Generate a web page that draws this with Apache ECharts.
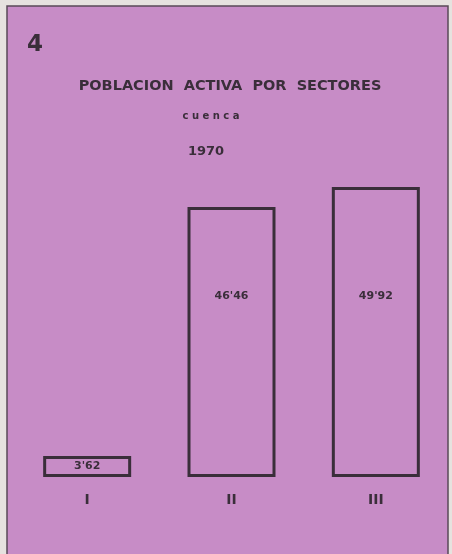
<!DOCTYPE html>
<html><head><meta charset="utf-8">
<script src="https://cdn.jsdelivr.net/npm/echarts@6/dist/echarts.min.js"></script>
<style>html,body{margin:0;padding:0;background:#e6e2df;}#c{width:452px;height:554px;}</style>
</head><body><div id="c"></div>
<script>
const categories = ['I', 'II', 'III'];
const values = [3.62, 46.46, 49.92];
const valueLabels = ["3'62", "46'46", "49'92"];
const figureNumber = '4';
const titleText = 'POBLACION  ACTIVA  POR  SECTORES';
const subtitleText = 'c u e n c a';
const yearText = '1970';

const ink = '#3a2e3a';
const font = '"DejaVu Sans", "Liberation Sans", Arial, sans-serif';
const labelDistances = [0, 84, 104];
const labelPositions = ['inside', 'insideTop', 'insideTop'];

const chart = echarts.init(document.getElementById('c'));
chart.setOption({
  backgroundColor: '#e6e2df',
  animation: false,
  graphic: [
    { type: 'rect', shape: { x: 7, y: 6, width: 441, height: 560 }, style: { fill: '#c78cc6', stroke: '#5a4a58', lineWidth: 1.5 }, z: -10 },
    { type: 'text', x: 27, y: 34, style: { text: figureNumber, fill: ink, font: 'bold 23px ' + font } },
    { type: 'text', x: 230, y: 86, style: { text: titleText, fill: ink, font: 'bold 14.5px ' + font, align: 'center', verticalAlign: 'middle' } },
    { type: 'text', x: 211, y: 116, style: { text: subtitleText, fill: ink, font: 'bold 10px ' + font, align: 'center', verticalAlign: 'middle' } },
    { type: 'text', x: 206, y: 152, style: { text: yearText, fill: ink, font: 'bold 13px ' + font, align: 'center', verticalAlign: 'middle' } }
  ],
  grid: { left: 15, right: 4, top: 186.5, bottom: 77 },
  xAxis: {
    type: 'category', data: categories,
    axisLine: { show: false }, axisTick: { show: false },
    axisLabel: { color: ink, fontWeight: 'bold', fontSize: 14, margin: 16, fontFamily: font }
  },
  yAxis: { type: 'value', min: 0, max: 50, show: false, splitLine: { show: false } },
  series: [{
    type: 'bar', barWidth: 88,
    data: values.map((v, i) => ({
      value: v,
      label: { show: true, position: labelPositions[i], distance: labelDistances[i], formatter: valueLabels[i] }
    })),
    itemStyle: { color: 'rgba(0,0,0,0)', borderColor: ink, borderWidth: 3 },
    label: { color: ink, fontWeight: 'bold', fontSize: 11, fontFamily: font }
  }]
});
</script></body></html>
